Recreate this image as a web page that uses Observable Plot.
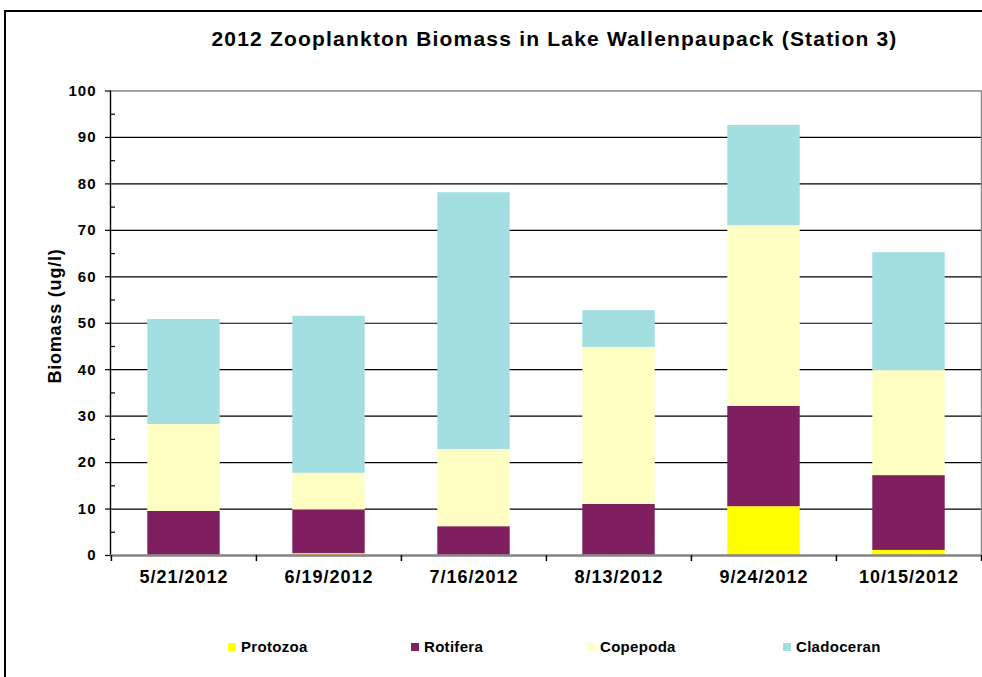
<!DOCTYPE html>
<html><head><meta charset="utf-8">
<script src="https://cdn.jsdelivr.net/npm/d3@7"></script>
<script src="https://cdn.jsdelivr.net/npm/@observablehq/plot@0.6"></script>
<style>
body{margin:0;background:#fff;font-family:"Liberation Sans",Arial,sans-serif;}
#wrap{position:relative;width:982px;height:677px;overflow:hidden;background:#fff;}
#border{position:absolute;left:4px;top:10px;width:1200px;height:1000px;border:2px solid #000;box-sizing:border-box;}
#title{position:absolute;left:0;width:1109px;top:27px;text-align:center;font-weight:bold;font-size:21px;letter-spacing:1.2px;color:#000;white-space:nowrap;}
#ylabel{position:absolute;left:55px;top:316px;transform:translate(-50%,-50%) rotate(-90deg);font-weight:bold;font-size:18px;letter-spacing:0.8px;white-space:nowrap;}
#chart{position:absolute;left:0;top:0;}
.leg{position:absolute;top:638px;font-weight:bold;font-size:15px;letter-spacing:0.3px;white-space:nowrap;display:flex;align-items:center;}
.leg i{display:inline-block;width:8px;height:8px;margin-right:5px;}
</style>
</head><body>
<div id="wrap">
  <div id="border"></div>
  <div id="chart"></div>
  <div id="title"></div>
  <div id="ylabel"></div>
</div>
<script>
// ---- data ----
const title = "2012 Zooplankton Biomass in Lake Wallenpaupack (Station 3)";
const yLabel = "Biomass (ug/l)";
const dates = ["5/21/2012", "6/19/2012", "7/16/2012", "8/13/2012", "9/24/2012", "10/15/2012"];
const species = ["Protozoa", "Rotifera", "Copepoda", "Cladoceran"];
const protozoa   = [0.0, 0.4, 0.0, 0.0, 10.5, 1.1];
const rotifera   = [9.5, 9.4, 6.2, 11.0, 21.6, 16.1];
const copepoda   = [18.7, 7.9, 16.6, 33.8, 38.9, 22.6];
const cladoceran = [22.6, 33.8, 55.3, 7.9, 21.6, 25.4];
const yTicks = [0, 10, 20, 30, 40, 50, 60, 70, 80, 90, 100];
const yMinorTicks = [5, 15, 25, 35, 45, 55, 65, 75, 85, 95];
const colors = ["#ffff00", "#7f1f5f", "#ffffc4", "#a3dfe0"];
const legendX = [228, 411, 587, 783];

// ---- table ----
const series = [protozoa, rotifera, copepoda, cladoceran];
const data = dates.flatMap((d, i) => species.map((s, j) => ({date: d, species: s, value: series[j][i]})));

const W = 982, H = 677, mL = 110, mR = 1, mT = 90.5, mB = 122;
const bw = (W - mL - mR) / dates.length;

const chart = Plot.plot({
  width: W, height: H,
  marginLeft: mL, marginRight: mR, marginTop: mT, marginBottom: mB,
  style: {fontFamily: "'Liberation Sans', Arial, sans-serif", background: "transparent", overflow: "visible", color: "#000", letterSpacing: "1px"},
  x: {domain: dates, paddingInner: 0, paddingOuter: 0, label: null},
  y: {domain: [0, 100], label: null},
  color: {domain: species, range: colors},
  marks: [
    Plot.ruleY(yTicks.filter(v => v > 0 && v < 100), {stroke: "#000", strokeWidth: 1.2}),
    Plot.barY(data, {x: "date", y: "value", fill: "species", insetLeft: bw / 4, insetRight: bw / 4}),
    Plot.frame({stroke: "#888", strokeWidth: 1.5}),
    Plot.frame({anchor: "left", stroke: "#000", strokeWidth: 1.2}),
    Plot.ruleY([0], {stroke: "#888", strokeWidth: 2.5}),
    Plot.axisY({ticks: yTicks, tickSize: 5, tickPadding: 9, fontSize: 15, fontWeight: "bold", tickFormat: d => String(d), strokeWidth: 1.2}),
    Plot.axisY({ticks: yMinorTicks, tickSize: 5, dx: 5, tickFormat: () => "", strokeWidth: 1.2}),
    Plot.ruleX(dates, {dx: -bw / 2, y1: 0, y2: -1.3, stroke: "#000", strokeWidth: 1.5}),
    Plot.ruleX([dates[dates.length - 1]], {dx: bw / 2, y1: 0, y2: -1.3, stroke: "#000", strokeWidth: 1.5}),
    Plot.axisX({tickSize: 0, tickPadding: 15, fontSize: 18, fontWeight: "bold"})
  ]
});
document.getElementById("chart").appendChild(chart);
document.getElementById("title").textContent = title;
document.getElementById("ylabel").textContent = yLabel;
const wrap = document.getElementById("wrap");
species.forEach((s, j) => {
  const el = document.createElement("div");
  el.className = "leg";
  el.style.left = legendX[j] + "px";
  const sw = document.createElement("i");
  sw.style.background = colors[j];
  el.appendChild(sw);
  el.appendChild(document.createTextNode(s));
  wrap.appendChild(el);
});
</script>
</body></html>
